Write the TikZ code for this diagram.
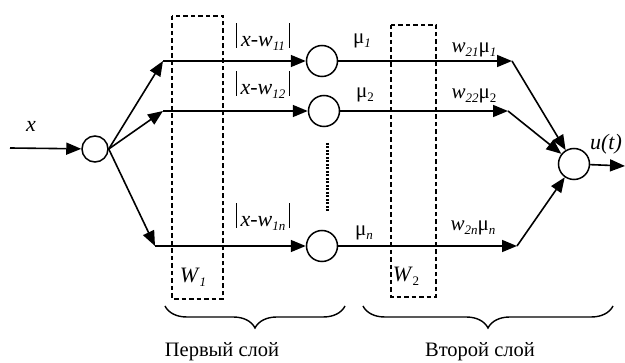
\documentclass[tikz,border=0pt]{standalone}
\usepackage{fontspec}
\setmainfont{Liberation Serif}
\usetikzlibrary{arrows.meta,decorations.pathreplacing}
\newcommand\sbx[1]{\raisebox{-0.35ex}{\fontsize{13}{13}\selectfont #1}}
\newcommand\vbr{\rule[-1pt]{1pt}{25pt}}
\begin{document}
\begin{tikzpicture}[x=1pt,y=-1pt,
  arr/.style={line width=1.6pt,-{Triangle[length=15pt,width=12pt]}},
  neuron/.style={circle,draw,line width=1.5pt,minimum size=31pt,inner sep=0pt},
  dashbox/.style={draw,line width=1.3pt,dash pattern=on 4.5pt off 3pt},
  lbl/.style={inner sep=0pt,anchor=base,font=\fontsize{22}{22}\selectfont},
  wl/.style={inner sep=0pt,anchor=base,font=\fontsize{21}{21}\selectfont},
  layer/.style={inner sep=0pt,anchor=base,font=\fontsize{20.5}{20.5}\selectfont},
  bracestyle/.style={line width=1.4pt,decorate,decoration={brace,mirror,amplitude=22pt}}]
\useasboundingbox (0,0) rectangle (625,363);
% dashed weight boxes
\draw[dashbox] (172,16) rectangle (223,299);
\draw[dashbox] (391,25) rectangle (436,297);
% neurons
\node[neuron,minimum size=26pt] (in) at (95,149) {};
\node[neuron] (c1) at (322,61) {};
\node[neuron] (c2) at (324,111) {};
\node[neuron] (cn) at (322,246) {};
\node[neuron] (out) at (574,164) {};
% junctions
\coordinate (i0) at (10,148);
\coordinate (a1) at (163,61);
\coordinate (a2) at (163,111);
\coordinate (an) at (155,246);
\coordinate (b1) at (512,61);
\coordinate (b2) at (508,111);
\coordinate (bn) at (517,246);
\coordinate (o) at (625,166);
% connectors
\draw[arr] (i0) -- (in);
\draw[arr] (in.east) -- (a1);
\draw[arr] (in.east) -- (a2);
\draw[arr] (in.east) -- (an);
\draw[arr] (a1) -- (c1);
\draw[arr] (a2) -- (c2);
\draw[arr] (an) -- (cn);
\draw[arr] (c1) -- (b1);
\draw[arr] (c2) -- (b2);
\draw[arr] (cn) -- (bn);
\draw[arr] (b1) -- (out);
\draw[arr] (b2) -- (out);
\draw[arr] (bn) -- (out);
\draw[arr] (out) -- (o);
% dotted column
\draw[line width=3pt,dash pattern=on 2pt off 1.5pt] (327,143) -- (327,212);
% labels
\node[lbl] (lx) at (31,132) {\textit{x}};
\node[lbl] (l11) at (263,47) {\vbr\,\textit{x}-\textit{w}\sbx{\textit{11}}\,\vbr};
\node[lbl] (l12) at (263,95) {\vbr\,\textit{x}-\textit{w}\sbx{\textit{12}}\,\vbr};
\node[lbl] (l1n) at (263,227) {\vbr\,\textit{x}-\textit{w}\sbx{\textit{1n}}\,\vbr};
\node[wl] (m1) at (362,44) {μ\sbx{\textit{1}}};
\node[wl] (m2) at (365,98) {μ\sbx{2}};
\node[wl] (mn) at (364,236) {μ\sbx{\textit{n}}};
\node[wl] (w1) at (474,53) {\textit{w}\sbx{\textit{21}}μ\sbx{\textit{1}}};
\node[wl] (w2) at (474,99) {\textit{w}\sbx{\textit{22}}μ\sbx{2}};
\node[wl] (wn) at (473,231) {\textit{w}\sbx{\textit{2n}}μ\sbx{\textit{n}}};
\node[lbl] (W1) at (193,283) {\textit{W}\sbx{\textit{1}}};
\node[lbl] (W2) at (406,282) {\textit{W}\sbx{2}};
\node[lbl] (ut) at (606,150) {\textit{u(t)}};
% braces
\draw[bracestyle] (165,306) -- (345,306);
\draw[bracestyle] (363,306) -- (613,306);
\node[layer] (L1) at (222,357) {Первый слой};
\node[layer] (L2) at (480,357) {Второй слой};
\end{tikzpicture}
\end{document}
